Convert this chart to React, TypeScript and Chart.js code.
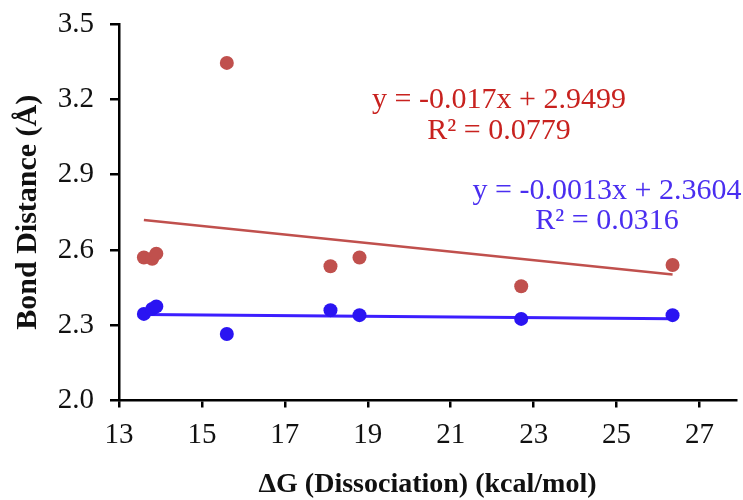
import React, { useEffect, useRef } from "react";
import { Chart, registerables } from "chart.js";

Chart.register(...registerables);

// ---- data ----
const dissociationG = [13.6, 13.8, 13.9, 15.6, 18.1, 18.8, 22.7, 26.35];
const redBond = [2.57, 2.565, 2.585, 3.345, 2.535, 2.57, 2.455, 2.54];
const blueBond = [2.345, 2.365, 2.375, 2.265, 2.36, 2.34, 2.325, 2.34];
const redFit = [-0.017, 2.9499]; // slope, intercept
const blueFit = [-0.0013, 2.3604];
const redLabels = ["y = -0.017x + 2.9499", "R² = 0.0779"];
const blueLabels = ["y = -0.0013x + 2.3604", "R² = 0.0316"];
const xTicks = [13, 15, 17, 19, 21, 23, 25, 27];
const yTicks = [2.0, 2.3, 2.6, 2.9, 3.2, 3.5];
const xTitle = "ΔG (Dissociation) (kcal/mol)";
const yTitle = "Bond Distance (Å)";

const RED = "#C0504D";
const BLUE = "#2A14F2";
const SERIF = '"Liberation Serif", "DejaVu Serif", serif';

const fitLine = (coef: number[]) => {
  const lo = Math.min(...dissociationG);
  const hi = Math.max(...dissociationG);
  return [
    { x: lo, y: coef[0] * lo + coef[1] },
    { x: hi, y: coef[0] * hi + coef[1] },
  ];
};

const annotations = {
  id: "fitLabels",
  afterDatasetsDraw(chart: any) {
    const ctx = chart.ctx;
    ctx.save();
    ctx.font = `30px ${SERIF}`;
    ctx.textAlign = "center";
    ctx.textBaseline = "middle";
    ctx.fillStyle = "#C8221F";
    ctx.fillText(redLabels[0], 499, 100);
    ctx.fillText(redLabels[1], 499, 131);
    ctx.fillStyle = "#4A2EF0";
    ctx.fillText(blueLabels[0], 607, 191);
    ctx.fillText(blueLabels[1], 607, 221);
    ctx.restore();
  },
};

export default function App() {
  const ref = useRef<HTMLCanvasElement | null>(null);
  useEffect(() => {
    if (!ref.current) return;
    const chart = new Chart(ref.current, {
      type: "scatter",
      data: {
        datasets: [
          {
            label: "red",
            data: dissociationG.map((x, i) => ({ x, y: redBond[i] })),
            backgroundColor: RED,
            borderWidth: 0,
            pointRadius: 7,
          },
          {
            label: "blue",
            data: dissociationG.map((x, i) => ({ x, y: blueBond[i] })),
            backgroundColor: BLUE,
            borderWidth: 0,
            pointRadius: 7,
          },
          {
            type: "line",
            label: "red fit",
            data: fitLine(redFit),
            borderColor: RED,
            borderWidth: 2.5,
            pointRadius: 0,
            fill: false,
          } as any,
          {
            type: "line",
            label: "blue fit",
            data: fitLine(blueFit),
            borderColor: "#3C1EFF",
            borderWidth: 3,
            pointRadius: 0,
            fill: false,
          } as any,
        ],
      },
      options: {
        animation: false,
        responsive: true,
        maintainAspectRatio: false,
        devicePixelRatio: 1,
        layout: { padding: { top: 24, right: 0, left: 0, bottom: 0 } },
        plugins: { legend: { display: false }, tooltip: { enabled: false } },
        scales: {
          x: {
            type: "linear",
            min: 13,
            max: 27.88,
            afterBuildTicks: (s: any) => {
              s.ticks = xTicks.map((v) => ({ value: v }));
            },
            afterFit: (s: any) => {
              s.height = 99.5;
              s.paddingLeft = 0;
              s.paddingRight = 0;
            },
            grid: {
              display: true,
              drawOnChartArea: false,
              drawTicks: true,
              tickLength: 7,
              lineWidth: 2.5,
              color: "#000",
            },
            border: { display: true, color: "#000", width: 2.5 },
            ticks: {
              color: "#111",
              font: { family: SERIF, size: 29 },
              padding: 10,
              maxRotation: 0,
              autoSkip: false,
              callback: (v: any) => String(v),
            },
            title: {
              display: true,
              text: xTitle,
              color: "#111",
              font: { family: SERIF, size: 28, weight: "bold" },
              padding: { top: 0, bottom: -2 },
            },
          },
          y: {
            type: "linear",
            min: 2.0,
            max: 3.5,
            afterBuildTicks: (s: any) => {
              s.ticks = yTicks.map((v) => ({ value: v }));
            },
            afterFit: (s: any) => {
              s.width = 119;
              s.paddingTop = 0;
              s.paddingBottom = 0;
            },
            grid: {
              display: true,
              drawOnChartArea: false,
              drawTicks: true,
              tickLength: 9,
              lineWidth: 2.5,
              color: "#000",
            },
            border: { display: true, color: "#000", width: 2.5 },
            ticks: {
              color: "#111",
              font: { family: SERIF, size: 29 },
              padding: 16,
              autoSkip: false,
              callback: (v: any) => Number(v).toFixed(1),
            },
            title: {
              display: true,
              text: yTitle,
              color: "#111",
              font: { family: SERIF, size: 30, weight: "bold" },
              padding: { top: 10, bottom: 0 },
            },
          },
        },
      },
      plugins: [annotations],
    });
    return () => chart.destroy();
  }, []);

  return (
    <div style={{ position: "absolute", left: 0, top: 0, width: 743, height: 500, background: "#fff" }}>
      <canvas ref={ref} />
    </div>
  );
}
